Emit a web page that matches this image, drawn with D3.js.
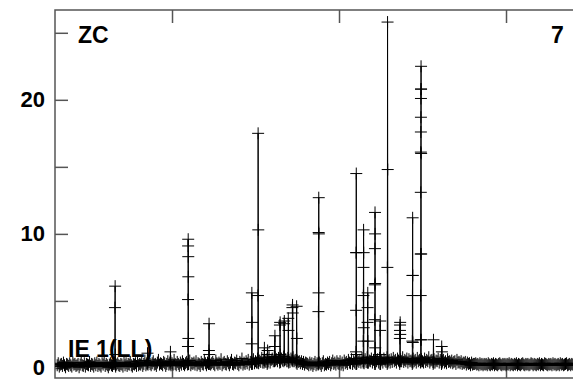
<!DOCTYPE html>
<html><head><meta charset="utf-8">
<script src="https://cdn.jsdelivr.net/npm/d3@7"></script>
<style>body{margin:0;background:#fff}svg{display:block}text{font-family:"Liberation Sans",Arial,sans-serif;font-weight:bold}</style>
</head><body><svg id="c" width="573" height="380"></svg>
<script>
const titleLabel = "ZC";
const panelLabel = "7";
const seriesLabel = "IE 1(LL)";
const yTickValues = [0, 5, 10, 15, 20, 25];
const yLabelValues = [0, 10, 20];
const xTickValues = [110, 270, 430];

const baseline = [
0.2,0.35,0.1,0.25,0.3,0.15,0.4,0.2,0.05,0.3,
0.25,0.15,0.35,0.2,0.1,0.4,0.25,0.3,0.15,0.2,
0.3,0.05,0.25,0.4,0.2,0.15,0.35,0.1,0.3,0.25,
0.2,0.45,0.15,0.3,0.25,0.1,0.35,0.2,0.4,0.15,
0.3,0.2,0.1,0.35,0.25,0.4,0.15,0.3,0.2,0.05,
0.25,0.35,0.2,0.15,0.3,0.4,0.1,0.25,0.35,0.2,
0.15,0.3,0.25,0.1,0.4,0.2,0.35,0.15,0.3,0.25,
0.45,0.2,0.1,0.3,0.25,0.35,0.15,0.5,0.2,0.3,
0.25,0.4,0.15,0.3,0.55,0.2,0.35,0.25,0.45,0.3,
0.2,0.35,0.5,0.25,0.3,0.15,0.4,0.6,0.25,0.35,
0.3,0.2,0.45,0.35,0.15,0.3,0.5,0.25,0.4,0.2,
0.35,0.25,0.6,0.3,0.2,0.45,0.3,0.15,0.4,0.25,
0.5,0.3,0.2,0.35,0.45,0.25,0.3,0.55,0.2,0.35,
0.3,0.4,0.25,0.5,0.2,0.35,0.3,0.15,0.45,0.3,
0.25,0.6,0.35,0.2,0.4,0.3,0.5,0.25,0.35,0.45,
0.3,0.2,0.55,0.35,0.25,0.4,0.3,0.65,0.2,0.35,
0.45,0.3,0.25,0.5,0.35,0.2,0.4,0.6,0.3,0.25,
0.4,0.35,0.55,0.3,0.2,0.45,0.35,0.7,0.25,0.4,
0.3,0.5,0.35,0.6,0.25,0.45,0.4,0.3,0.65,0.35,
0.5,0.4,0.7,0.35,0.55,0.45,0.75,0.4,0.6,0.5,
0.45,0.65,0.5,0.8,0.4,0.6,0.7,0.5,0.85,0.55,
0.65,0.5,0.75,0.6,0.45,0.7,0.55,0.85,0.6,0.65,
0.5,0.75,0.6,0.45,0.7,0.55,0.8,0.5,0.6,0.4,
0.55,0.45,0.5,0.35,0.5,0.3,0.45,0.25,0.4,0.35,
0.3,0.2,0.4,0.25,0.35,0.15,0.3,0.45,0.2,0.35,
0.25,0.4,0.3,0.15,0.35,0.5,0.2,0.3,0.25,0.4,
0.3,0.45,0.2,0.35,0.55,0.3,0.4,0.25,0.5,0.35,
0.3,0.5,0.25,0.4,0.2,0.55,0.35,0.45,0.3,0.6,
0.4,0.35,0.65,0.3,0.5,0.4,0.7,0.35,0.55,0.45,
0.6,0.4,0.75,0.5,0.35,0.65,0.45,0.8,0.4,0.55,
0.5,0.7,0.4,0.6,0.45,0.85,0.5,0.65,0.4,0.75,
0.5,0.6,0.4,0.7,0.55,0.45,0.8,0.5,0.6,0.4,
0.65,0.45,0.75,0.5,0.6,0.4,0.7,0.55,0.45,0.65,
0.5,0.8,0.45,0.6,0.5,0.7,0.4,0.65,0.5,0.55,
0.45,0.7,0.5,0.6,0.4,0.75,0.5,0.6,0.45,0.65,
0.5,0.4,0.7,0.45,0.6,0.5,0.8,0.4,0.55,0.6,
0.45,0.65,0.4,0.55,0.5,0.7,0.4,0.6,0.45,0.5,
0.6,0.4,0.5,0.35,0.65,0.45,0.5,0.4,0.55,0.35,
0.45,0.5,0.3,0.6,0.4,0.45,0.35,0.5,0.3,0.4,
0.35,0.45,0.25,0.4,0.3,0.35,0.2,0.4,0.25,0.3,
0.3,0.35,0.25,0.3,0.2,0.35,0.25,0.3,0.2,0.3,
0.25,0.3,0.2,0.35,0.25,0.2,0.3,0.25,0.35,0.2,
0.3,0.25,0.2,0.3,0.35,0.25,0.2,0.3,0.25,0.3,
0.2,0.3,0.25,0.35,0.2,0.3,0.25,0.2,0.3,0.25,
0.35,0.2,0.3,0.25,0.2,0.3,0.35,0.25,0.2,0.3,
0.25,0.3,0.2,0.25,0.35,0.3,0.2,0.3,0.25,0.2,
0.3,0.25,0.35,0.2,0.3,0.25,0.2,0.35,0.3,0.25,
0.2,0.3,0.25,0.3,0.2,0.35,0.25,0.3,0.2,0.25,
0.3,0.2,0.35,0.25,0.3,0.2,0.25,0.3,0.35,0.2,
0.25,0.3,0.2,0.3,0.25,0.35
];

const peakAt = [55.2, 86.2, 108.2, 125.2, 145.2, 186.2, 192.2,
  198.2, 201.2, 208.2, 213.2, 217.2, 221.2, 225.2, 229.2,
  250.2, 286.2, 293.2, 297.2, 304.2, 309.2, 316.2, 328.2, 340.2, 348.2, 360.2, 368.2];
const peakValues = [
  [0.3, 4.5, 6.1, 1.0, 0.2],
  [0.3, 1.1, 0.4],
  [0.3, 1.2, 0.5],
  [0.3, 1.6, 5.1, 9.1, 9.6, 8.3, 6.8, 2.2, 0.3],
  [0.3, 1.3, 3.3, 1.0, 0.3],
  [0.3, 1.8, 5.6, 3.4, 0.4],
  [0.4, 5.4, 17.5, 10.3, 0.5],
  [0.4, 1.5, 0.6],
  [0.3, 1.0, 1.3, 0.4],
  [0.5, 1.6, 2.4, 0.8],
  [0.4, 3.2, 3.4, 1.0],
  [0.5, 3.3, 3.5, 0.6],
  [0.5, 3.7, 2.8, 0.4],
  [0.6, 4.5, 4.7, 4.1, 0.5],
  [0.5, 4.6, 2.2, 0.3],
  [0.3, 4.2, 5.6, 10.1, 12.7, 10.0, 0.4],
  [0.3, 1.2, 4.3, 8.6, 14.5, 8.6, 1.0, 0.3],
  [0.4, 2.0, 5.4, 7.5, 10.3, 8.6, 3.0, 0.5],
  [0.4, 3.4, 4.5, 5.6, 2.0, 0.4],
  [0.3, 3.6, 6.2, 8.9, 11.6, 10.0, 6.3, 1.5, 0.3],
  [0.3, 2.8, 3.5, 1.0, 0.3],
  [0.3, 7.5, 25.8, 14.8, 0.4],
  [0.3, 2.2, 2.8, 3.2, 3.4, 2.5, 0.5],
  [0.3, 2.0, 5.4, 6.9, 11.2, 6.9, 1.9, 0.4],
  [0.4, 2.1, 5.4, 8.5, 13.1, 16.1, 17.6, 18.7, 20.1, 20.8, 22.5, 20.8, 16.0, 8.5, 2.1, 0.5],
  [0.3, 2.1, 0.4],
  [0.3, 1.6, 1.2, 0.4]
];

// build ordered series
const points = [];
const peakWidth = 0.6;
baseline.forEach((v, i) => {
  points.push({x: i, y: v});
  peakAt.forEach((a, p) => {
    if (Math.floor(a) === i) {
      const vals = peakValues[p];
      vals.forEach((pv, k) => points.push({x: a + k * peakWidth / (vals.length - 1), y: pv}));
    }
  });
});

const svg = d3.select("#c");
const L = 55, T = 10, B = 378, R = 620;
const x = d3.scaleLinear().domain([0, 160]).range([57.2, 57.2 + 160 * 1.04375]);
const y = d3.scaleLinear().domain([-0.75, 26.7]).range([B, T]);

svg.append("rect").attr("width", 573).attr("height", 380).attr("fill", "#fff");

// axes
const fmt = d => yLabelValues.includes(d) ? d : "";
const gl = svg.append("g").attr("transform", `translate(${L},0)`)
  .call(d3.axisLeft(y).tickValues(yTickValues).tickSize(-13).tickPadding(10).tickFormat(fmt));
const gb = svg.append("g").attr("transform", `translate(0,${B})`)
  .call(d3.axisBottom(x).tickValues(xTickValues).tickSize(-13).tickFormat(""));
const gt = svg.append("g").attr("transform", `translate(0,${T})`)
  .call(d3.axisTop(x).tickValues(xTickValues).tickSize(-13).tickFormat(""));
[gl, gb, gt].forEach(g => {
  g.select(".domain").remove();
  g.selectAll(".tick line").attr("stroke", "#555").attr("stroke-width", 1.5);
});
gl.selectAll(".tick text").attr("font-size", 22).attr("fill", "#000")
  .attr("font-family", '"Liberation Sans",Arial,sans-serif').attr("font-weight", "bold");

svg.append("rect").attr("x", L).attr("y", T).attr("width", R - L).attr("height", B - T)
  .attr("fill", "none").attr("stroke", "#555").attr("stroke-width", 1.5);

// labels
svg.append("text").attr("x", 78).attr("y", 43).attr("font-size", 23).text(titleLabel);
svg.append("text").attr("x", 551).attr("y", 43).attr("font-size", 23).text(panelLabel);
svg.append("text").attr("x", 68).attr("y", 357).attr("font-size", 23).text(seriesLabel);

// data
svg.append("clipPath").attr("id", "pc").append("rect")
  .attr("x", L).attr("y", T).attr("width", R - L).attr("height", B - T);
const g = svg.append("g").attr("clip-path", "url(#pc)");
g.append("path").datum(points)
  .attr("d", d3.line().x(d => x(d.x)).y(d => y(d.y)))
  .attr("fill", "none").attr("stroke", "#000").attr("stroke-width", 1);
g.selectAll("path.m").data(points).join("path").attr("class", "m")
  .attr("transform", d => `translate(${x(d.x)},${y(d.y)})`)
  .attr("d", "M-6,0H6M0,-6V6")
  .attr("stroke", "#000").attr("stroke-width", 1).attr("fill", "none");
</script></body></html>
